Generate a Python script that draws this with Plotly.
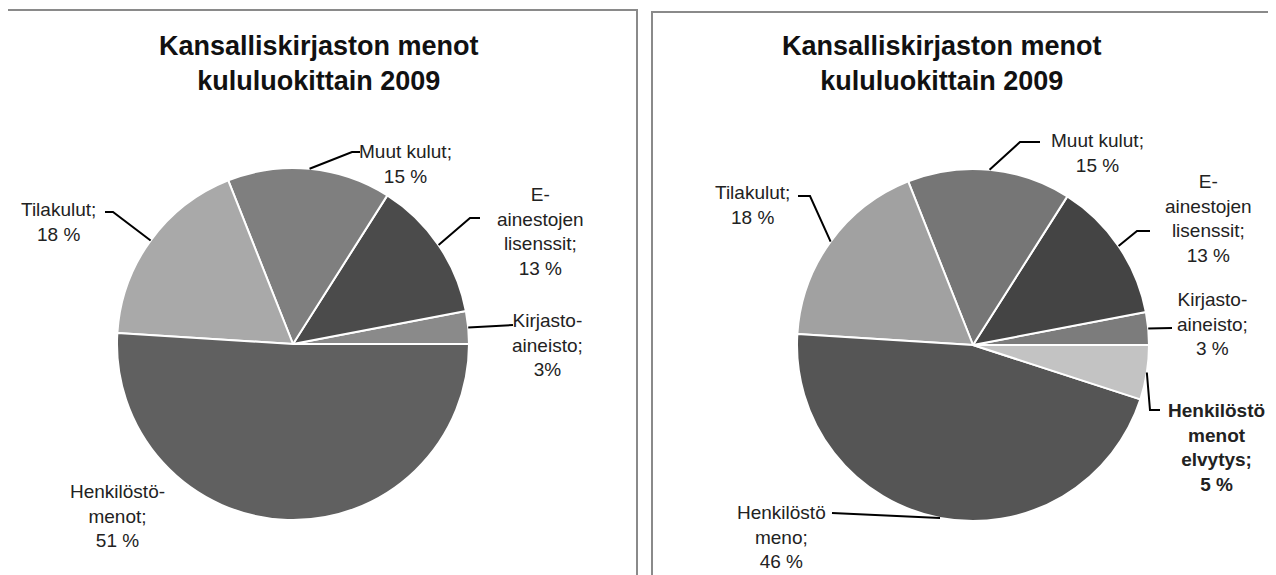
import math
import plotly.graph_objects as go

# page has an 8px body margin, so the figure is drawn 8px in from the corner
OFF = 8
W, H = 1276 - OFF, 575 - OFF

# data
title_text = "Kansalliskirjaston menot<br>kululuokittain 2009"

categories_a = ["Kirjastoaineisto", "E-ainestojen lisenssit", "Muut kulut", "Tilakulut", "Henkilöstömenot"]
values_a = [3, 13, 15, 18, 51]
labels_a = ["Kirjasto-<br>aineisto;<br>3%", "E-<br>ainestojen<br>lisenssit;<br>13 %",
            "Muut kulut;<br>15 %", "Tilakulut;<br>18 %", "Henkilöstö-<br>menot;<br>51 %"]

categories_b = ["Kirjastoaineisto", "E-ainestojen lisenssit", "Muut kulut", "Tilakulut",
                "Henkilöstömeno", "Henkilöstömenot elvytys"]
values_b = [3, 13, 15, 18, 46, 5]
labels_b = ["Kirjasto-<br>aineisto;<br>3 %", "E-<br>ainestojen<br>lisenssit;<br>13 %",
            "Muut kulut;<br>15 %", "Tilakulut;<br>18 %", "Henkilöstö<br>meno;<br>46 %",
            "<b>Henkilöstö<br>menot<br>elvytys;<br>5 %</b>"]

colors_a = ["#8a8a8a", "#4b4b4b", "#7f7f7f", "#a9a9a9", "#606060"]
colors_b = ["#7c7c7c", "#444444", "#767676", "#a1a1a1", "#555555", "#c3c3c3"]

# layout (pixels in the screenshot)
R = 176
center_a = (293, 344)
center_b = (973, 345)
title_x = [319, 942]

# label text centre and leader elbow points, per slice
label_pos_a = [(547, 345), (540, 231), (405, 164), (58, 222), (117, 516)]
leader_a = [[(513, 325)], [(470, 218), (480, 218)], [(352, 152), (360, 152)],
            [(113, 212), (105, 212)], None]
label_pos_b = [(1212, 324), (1208, 218), (1097, 153), (752, 205), (781, 537), (1216, 447)]
leader_b = [[(1172, 328)], [(1137, 231), (1150, 231)], [(1020, 142), (1040, 142)],
            [(810, 196), (798, 196)], [(832, 513)], [(1150, 410), (1160, 410)]]

FONT = "Liberation Sans, Arial, sans-serif"


def px(x):
    return (x - OFF) / W


def py(y):
    return 1 - (y - OFF) / H


def domain(c):
    return dict(x=[px(c[0] - R), px(c[0] + R)], y=[py(c[1] + R), py(c[1] - R)])


def edge_points(values, c):
    pts = []
    total = sum(values)
    cum = 0
    for v in values:
        mid = (cum + v / 2) / total * 2 * math.pi
        pts.append((c[0] + R * math.cos(mid), c[1] - R * math.sin(mid)))
        cum += v
    return pts


def start_rotation(values):
    # counterclockwise pies in plotly end the first slice at the rotation angle,
    # so turn back by the first slice to make it start at 3 o'clock
    return 90 - values[0] / sum(values) * 360


fig = go.Figure()
fig.add_trace(go.Pie(labels=categories_a, values=values_a, sort=False,
                     direction="counterclockwise", rotation=start_rotation(values_a),
                     marker=dict(colors=colors_a, line=dict(color="white", width=2)),
                     textinfo="none", domain=domain(center_a), showlegend=False))
fig.add_trace(go.Pie(labels=categories_b, values=values_b, sort=False,
                     direction="counterclockwise", rotation=start_rotation(values_b),
                     marker=dict(colors=colors_b, line=dict(color="white", width=2)),
                     textinfo="none", domain=domain(center_b), showlegend=False))

shapes = []
annotations = []

# panel borders
for x0, y0, x1 in [(7, 10, 637), (652, 12, 1300)]:
    shapes.append(dict(type="rect", xref="paper", yref="paper",
                       x0=px(x0), x1=px(x1), y0=py(y0), y1=py(620),
                       line=dict(color="#8a8a8a", width=2)))

for tx in title_x:
    annotations.append(dict(text="<b>" + title_text + "</b>", x=px(tx), y=py(63),
                            xref="paper", yref="paper", showarrow=False,
                            font=dict(family=FONT, size=27, color="#111"),
                            xanchor="center", yanchor="middle"))

for values, c, texts, pos, leaders in [(values_a, center_a, labels_a, label_pos_a, leader_a),
                                       (values_b, center_b, labels_b, label_pos_b, leader_b)]:
    pts = edge_points(values, c)
    for p, t, lp, ld in zip(pts, texts, pos, leaders):
        annotations.append(dict(text=t, x=px(lp[0]), y=py(lp[1]), xref="paper", yref="paper",
                                showarrow=False, align="center",
                                font=dict(family=FONT, size=19, color="#222"),
                                xanchor="center", yanchor="middle"))
        if ld:
            path = "M %f %f" % (px(p[0]), py(p[1]))
            for q in ld:
                path += " L %f %f" % (px(q[0]), py(q[1]))
            shapes.append(dict(type="path", xref="paper", yref="paper", path=path,
                               line=dict(color="black", width=2)))

fig.update_layout(width=W, height=H, margin=dict(l=0, r=0, t=0, b=0),
                  paper_bgcolor="white", plot_bgcolor="white",
                  shapes=shapes, annotations=annotations)

fig.write_html("out.html")
